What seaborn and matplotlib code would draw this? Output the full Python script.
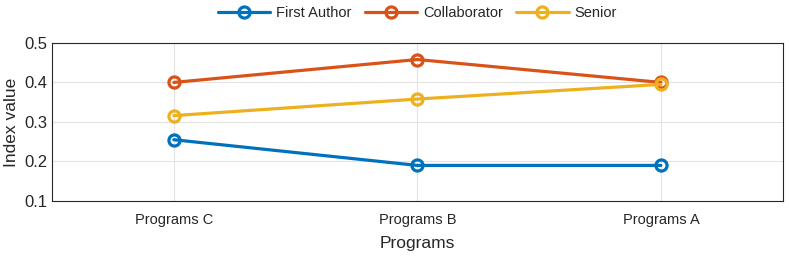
import pandas as pd
import matplotlib.pyplot as plt
import seaborn as sns

programs = ['Programs C', 'Programs B', 'Programs A']
first_author = [0.255, 0.190, 0.190]
collaborator = [0.400, 0.458, 0.400]
senior = [0.316, 0.358, 0.395]

series_names = ['First Author', 'Collaborator', 'Senior']
colors = ['#0072BD', '#D95319', '#EDB120']

df = pd.DataFrame({
    'Programs': programs * 3,
    'value': first_author + collaborator + senior,
    'role': [n for n in series_names for _ in programs],
})

sns.set_style('white')
plt.rcParams['font.family'] = ['Liberation Sans', 'DejaVu Sans']

fig = plt.figure(figsize=(7.89, 2.57), dpi=100)
ax = fig.add_axes([0.066, 0.218, 0.926, 0.615])

for name, col in zip(series_names, colors):
    sub = df[df['role'] == name]
    sns.lineplot(data=sub, x='Programs', y='value', ax=ax, color=col,
                 linewidth=2.3, marker='o', markersize=8,
                 markerfacecolor='none', markeredgecolor=col,
                 markeredgewidth=2.3, label=name)

ax.set_xlim(-0.5, 2.5)
ax.set_ylim(0.1, 0.5)
ax.set_yticks([0.1, 0.2, 0.3, 0.4, 0.5])
ax.set_yticklabels(['0.1', '0.2', '0.3', '0.4', '0.5'])
ax.grid(True, color='#e3e3e3', linewidth=0.8)
ax.set_axisbelow(True)
for s in ax.spines.values():
    s.set_color('#262626')
    s.set_linewidth(0.8)
ax.tick_params(direction='in', length=4, width=0.6, colors='#262626',
               labelsize=10.5, top=False, right=False)
ax.tick_params(axis='x', pad=9)
ax.tick_params(axis='y', labelsize=12)
ax.set_xlabel('Programs', fontsize=12.5, color='#262626', labelpad=6)
ax.set_ylabel('Index value', fontsize=12.5, color='#262626')

handles, labels = ax.get_legend_handles_labels()
ax.legend_.remove()
fig.legend(handles, labels, loc='upper center', bbox_to_anchor=(0.529, 1.005),
           ncol=3, frameon=False, fontsize=10.5, handlelength=3.6,
           columnspacing=0.9, handletextpad=0.4, borderaxespad=0.1)

fig.savefig('out.png', dpi=100)
